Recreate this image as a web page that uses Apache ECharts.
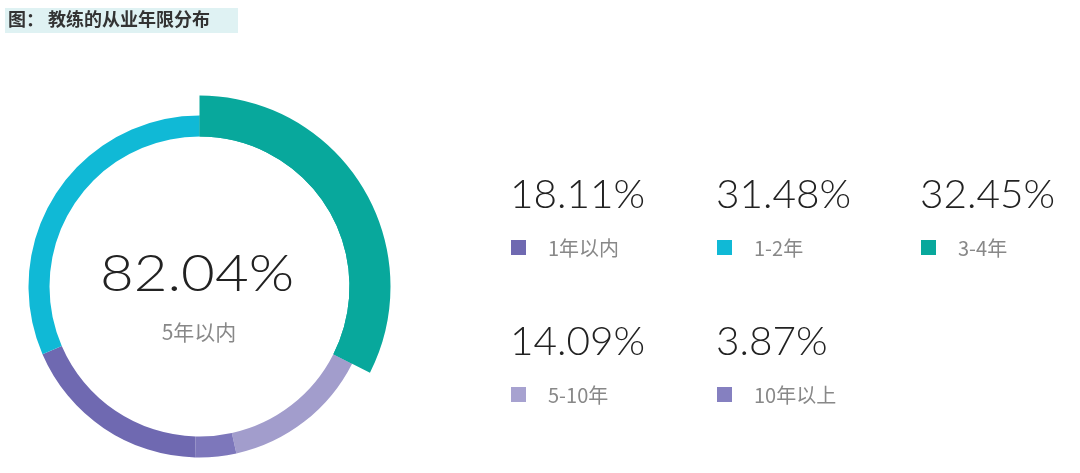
<!DOCTYPE html>
<html><head><meta charset="utf-8">
<script src="https://cdn.jsdelivr.net/npm/echarts@6/dist/echarts.min.js"></script>
<style>html,body{margin:0;padding:0;background:#fff}#c{width:1080px;height:473px}</style>
</head><body><div id="c"></div>
<script>
var titleText = '图： 教练的从业年限分布';
var centerValue = '82.04%';
var centerLabel = '5年以内';
// ring order (clockwise from top)
var ringNames = ['3-4年', '5-10年', '10年以上', '1年以内', '1-2年'];
var ringValues = [32.45, 14.09, 3.87, 18.11, 31.48];
var ringColors = ['#08a89c', '#a29dcc', '#7d77bb', '#6f69b1', '#10b9d6'];
// legend order
var legendNames = ['1年以内', '1-2年', '3-4年', '5-10年', '10年以上'];
var legendValues = ['18.11%', '31.48%', '32.45%', '14.09%', '3.87%'];
var legendColors = ['#6f69b1', '#10b9d6', '#08a89c', '#a7a2d0', '#8580c0'];
var highlightName = '3-4年';

var chart = echarts.init(document.getElementById('c'));
var numFont = 'Lato, Roboto, sans-serif';
var cjkFont = '"Noto Sans CJK SC", sans-serif';

var graphics = [
  {type:'rect', left:5, top:8, shape:{width:233, height:25}, style:{fill:'#dff2f3'}, z:1},
  {type:'text', left:8, top:10, style:{text:titleText, font:'bold 18px "Noto Sans CJK SC", sans-serif', fill:'#333'}, z:2},
  {type:'text', x:197, y:274, scaleX:1.12, style:{text:centerValue, font:'300 52px ' + numFont, fill:'#222', align:'center', verticalAlign:'middle'}},
  {type:'text', x:199, y:332, style:{text:centerLabel, font:'21px ' + cjkFont, fill:'#888', align:'center', verticalAlign:'middle'}}
];
var colX = [510, 716, 920];
var rowY = [195, 342];
legendNames.forEach(function(n, i){
  var x = colX[i % 3], y = rowY[Math.floor(i / 3)];
  graphics.push({type:'text', x:x, y:y, scaleX:1.04, style:{text:legendValues[i], font:'300 39px ' + numFont, fill:'#222', verticalAlign:'middle'}});
  graphics.push({type:'rect', shape:{x:x+1, y:y+45, width:15, height:15}, style:{fill:legendColors[i]}});
  graphics.push({type:'text', x:x+38, y:y+53, style:{text:n, font:'20px ' + cjkFont, fill:'#888', verticalAlign:'middle'}});
});

chart.setOption({
  animation:false,
  graphic: graphics,
  series: [
    {type:'pie', center:[199.5, 286.5], radius:[150, 171], startAngle:90, clockwise:true, silent:true,
     label:{show:false}, labelLine:{show:false},
     data: ringNames.map(function(n,i){return {name:n, value:ringValues[i], itemStyle:{color:ringColors[i]}};})},
    {type:'pie', center:[199.5, 286.5], radius:[150, 191], startAngle:90, clockwise:true, silent:true,
     label:{show:false}, labelLine:{show:false}, z:3,
     data: ringNames.map(function(n,i){return {name:n, value:ringValues[i], itemStyle:{color: n===highlightName ? ringColors[i] : 'rgba(0,0,0,0)'}};})}
  ]
});
</script></body></html>
